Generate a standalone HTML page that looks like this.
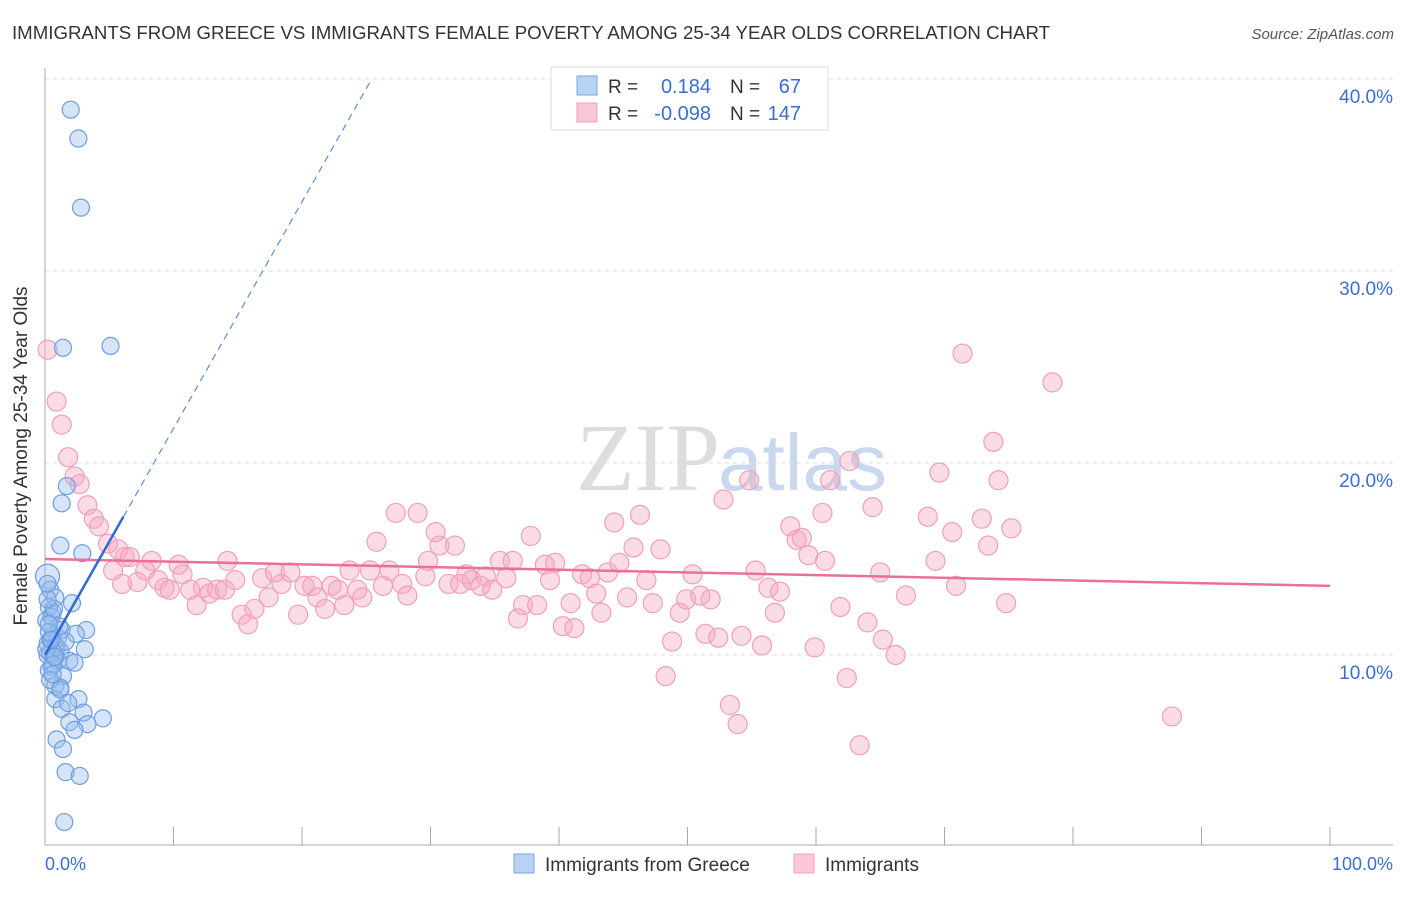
<!DOCTYPE html>
<html><head><meta charset="utf-8"><style>
body{margin:0;background:#fff;font-family:"Liberation Sans",sans-serif}
</style></head><body>
<svg id="c" width="1406" height="892" xmlns="http://www.w3.org/2000/svg">
<text x="12" y="39" font-size="18" fill="#333" textLength="1038" lengthAdjust="spacingAndGlyphs">IMMIGRANTS FROM GREECE VS IMMIGRANTS FEMALE POVERTY AMONG 25-34 YEAR OLDS CORRELATION CHART</text>
<text x="1394" y="39" font-size="15" fill="#555" font-style="italic" text-anchor="end">Source: ZipAtlas.com</text>
<text x="720" y="490" font-size="96" fill="#ddd" text-anchor="end" font-family="Liberation Serif">ZIP</text>
<text x="718" y="490" font-size="80" fill="#c9d8ee">atlas</text>
<g id="grid"></g>
<line x1="45" y1="68" x2="45" y2="845" stroke="#aaa"/>
<line x1="45" y1="845" x2="1393" y2="845" stroke="#aaa"/>
<text x="27" y="456" font-size="19" fill="#333" text-anchor="middle" transform="rotate(-90 27 456)">Female Poverty Among 25-34 Year Olds</text>
<text x="45" y="870" font-size="18" fill="#3a6fd0">0.0%</text>
<text x="1393" y="870" font-size="18" fill="#3a6fd0" text-anchor="end">100.0%</text>
<g id="pts"></g>
<g id="lines"></g>
<g>
<rect x="551" y="67" width="277" height="63" fill="#fff" stroke="#ddd"/>
<rect x="577" y="76" width="20" height="19" fill="#b9d3f5" stroke="#7ea6e0"/>
<rect x="577" y="103" width="20" height="19" fill="#f9c6d5" stroke="#eea0b8"/>
<text x="608" y="93" font-size="19" fill="#333">R =</text>
<text x="711" y="93" font-size="20" fill="#3a6fd0" text-anchor="end">0.184</text>
<text x="730" y="93" font-size="19" fill="#333">N =</text>
<text x="801" y="93" font-size="20" fill="#3a6fd0" text-anchor="end">67</text>
<text x="608" y="120" font-size="19" fill="#333">R =</text>
<text x="711" y="120" font-size="20" fill="#3a6fd0" text-anchor="end">-0.098</text>
<text x="730" y="120" font-size="19" fill="#333">N =</text>
<text x="801" y="120" font-size="20" fill="#3a6fd0" text-anchor="end">147</text>
</g>
<g>
<rect x="514" y="854" width="20" height="19" fill="#b9d3f5" stroke="#7ea6e0"/>
<text x="545" y="871" font-size="19" fill="#333">Immigrants from Greece</text>
<rect x="794" y="854" width="20" height="19" fill="#f9c6d5" stroke="#eea0b8"/>
<text x="825" y="871" font-size="19" fill="#333">Immigrants</text>
</g>
</svg>
<script>
const yTicks=[10,20,30,40];
const yTickLabels=["10.0%","20.0%","30.0%","40.0%"];
const xTicks=[0,10,20,30,40,50,60,70,80,90,100];
const blueX=[2.0,2.6,2.8,1.4,5.1,1.7,1.3,1.2,2.9,0.2,0.4,2.1,0.8,0.6,1.3,3.2,2.4,0.4,0.8,3.1,1.2,0.2,1.0,1.9,2.3,0.5,1.4,0.8,1.2,2.6,0.8,1.3,3.0,1.9,4.5,3.3,2.3,0.9,1.4,1.6,2.7,1.5,0.3,0.1,0.6,0.2,1.0,0.4,0.7,0.3,1.1,0.5,0.2,0.9,0.3,0.6,1.6,0.4,0.1,0.7,1.2,0.3,0.8,0.5,0.2,1.8,0.6];
const blueY=[38.4,36.9,33.3,26.0,26.1,18.8,17.9,15.7,15.3,14.1,13.4,12.7,13.0,12.2,11.3,11.3,11.1,10.8,10.5,10.3,10.2,10.0,9.7,9.7,9.6,9.4,8.9,8.4,8.3,7.7,7.7,7.2,7.0,6.5,6.7,6.4,6.1,5.6,5.1,3.9,3.7,1.3,12.5,11.8,11.0,10.6,10.9,10.1,9.9,9.2,11.5,12.0,13.7,10.4,11.2,9.5,10.7,8.7,10.3,12.4,8.2,11.6,9.9,10.8,12.9,7.5,9.0];
const pinkX=[0.2,0.9,1.3,1.8,2.3,2.7,3.3,3.8,4.2,4.9,5.7,6.2,6.6,5.3,7.2,7.8,8.3,8.8,9.3,9.7,10.4,10.7,11.3,11.8,12.3,12.8,13.4,14.0,14.2,14.8,15.3,15.8,16.3,16.9,17.4,17.9,18.4,19.1,19.7,20.2,20.8,21.2,21.8,22.3,22.8,23.3,23.7,24.3,24.7,25.3,25.8,26.3,26.8,27.3,27.8,28.2,29.0,29.6,29.8,30.4,30.7,31.4,31.9,32.3,32.8,33.2,33.9,34.3,34.8,35.4,35.9,36.4,36.8,37.2,37.8,38.3,38.9,39.3,39.7,40.3,40.9,41.2,41.8,42.4,42.9,43.3,43.8,44.3,44.7,45.3,45.8,46.3,46.8,47.3,47.9,48.3,48.8,49.4,49.9,50.4,51.0,51.4,51.8,52.4,52.8,53.3,53.9,54.2,54.8,55.3,55.8,56.3,56.8,57.2,58.0,58.5,58.9,59.4,59.9,60.5,60.7,61.1,61.9,62.4,62.6,63.4,64.0,64.4,65.0,65.2,66.2,67.0,68.7,69.3,69.6,70.6,70.9,71.4,72.9,73.4,73.8,74.2,74.8,75.2,78.4,87.7,6.0];
const pinkY=[25.9,23.2,22.0,20.3,19.3,18.9,17.8,17.1,16.7,15.8,15.5,15.1,15.1,14.4,13.8,14.4,14.9,13.9,13.5,13.4,14.7,14.2,13.4,12.6,13.5,13.2,13.4,13.4,14.9,13.9,12.1,11.6,12.4,14.0,13.0,14.3,13.7,14.3,12.1,13.6,13.6,13.0,12.4,13.6,13.4,12.6,14.4,13.4,13.0,14.4,15.9,13.6,14.4,17.4,13.7,13.1,17.4,14.1,14.9,16.4,15.7,13.7,15.7,13.7,14.2,13.9,13.6,14.1,13.4,14.9,14.0,14.9,11.9,12.6,16.2,12.6,14.7,13.9,14.8,11.5,12.7,11.4,14.2,14.0,13.2,12.2,14.3,16.9,14.8,13.0,15.6,17.3,13.9,12.7,15.5,8.9,10.7,12.2,12.9,14.2,13.1,11.1,12.9,10.9,18.1,7.4,6.4,11.0,19.1,14.4,10.5,13.5,12.2,13.3,16.7,16.0,16.1,15.2,10.4,17.4,14.9,19.1,12.5,8.8,20.1,5.3,11.7,17.7,14.3,10.8,10.0,13.1,17.2,14.9,19.5,16.4,13.6,25.7,17.1,15.7,21.1,19.1,12.7,16.6,24.2,6.8,13.7];
const blueTrend=[10.0,1.18];  // intercept, slope
const pinkTrend=[15.0,-0.014];
const NS="http://www.w3.org/2000/svg";
const sx=v=>45+v*12.85, sy=v=>847-v*19.2;
function mk(t,a,p){const e=document.createElementNS(NS,t);for(const k in a)e.setAttribute(k,a[k]);p.appendChild(e);return e;}
const grid=document.getElementById('grid');
yTicks.forEach((v,i)=>{
 const l=mk('line',{x1:45,x2:1393,y1:sy(v),y2:sy(v),stroke:'#ddd','stroke-dasharray':'4,4'},grid);
 
 
 const t=mk('text',{x:1393,y:sy(v)+24,'font-size':19,fill:'#3a6fd0','text-anchor':'end'},grid);
 t.textContent=yTickLabels[i];
 
 
});
xTicks.forEach(v=>{
 const l=mk('line',{x1:sx(v),x2:sx(v),y1:827,y2:845,stroke:'#aaa'},grid);
 
 
});
const pts=document.getElementById('pts');
pinkX.forEach((x,i)=>{
 const c=mk('circle',{cx:sx(x),cy:sy(pinkY[i]),r:9.5,fill:'rgba(246,168,192,0.4)',stroke:'#f0a0b8','stroke-width':1.2},pts);
 
 
});
blueX.forEach((x,i)=>{
 const c=mk('circle',{cx:sx(x),cy:sy(blueY[i]),r:i==9?12:8.5,fill:'rgba(150,188,238,0.4)',stroke:'#6f9ee0','stroke-width':1.2},pts);
 
 
});
const lines=document.getElementById('lines');
const f=(t,x)=>t[0]+t[1]*x;
let l=mk('line',{x1:sx(0),y1:sy(f(pinkTrend,0)),x2:sx(100),y2:sy(f(pinkTrend,100)),stroke:'#e8709a','stroke-width':2.5},lines);


l=mk('line',{x1:sx(0),y1:sy(f(blueTrend,0)),x2:sx(6.1),y2:sy(f(blueTrend,6.1)),stroke:'#2f6bd0','stroke-width':2.5},lines);


const xe=(40-blueTrend[0])/blueTrend[1];
l=mk('line',{x1:sx(6.1),y1:sy(f(blueTrend,6.1)),x2:sx(xe),y2:sy(40),stroke:'#5a8ee0','stroke-width':1.2,'stroke-dasharray':'7,5'},lines);


</script>
</body></html>
